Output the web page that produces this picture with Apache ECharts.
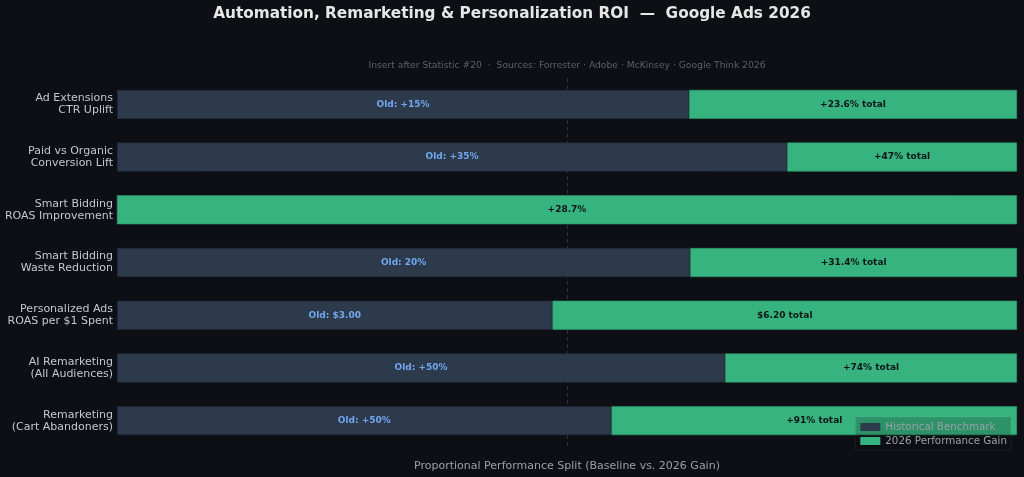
<!DOCTYPE html>
<html>
<head>
<meta charset="utf-8">
<script src="https://cdn.jsdelivr.net/npm/echarts@6/dist/echarts.min.js"></script>
<style>
  html, body { margin: 0; padding: 0; background: #0d0f14; }
  #chart { width: 1024px; height: 477px; }
</style>
</head>
<body>
<div id="chart"></div>
<script>
// categories, top to bottom
var categories = [
  'Ad Extensions\nCTR Uplift',
  'Paid vs Organic\nConversion Lift',
  'Smart Bidding\nROAS Improvement',
  'Smart Bidding\nWaste Reduction',
  'Personalized Ads\nROAS per $1 Spent',
  'AI Remarketing\n(All Audiences)',
  'Remarketing\n(Cart Abandoners)'
];
// historical baseline and 2026 total, same unit per row
var oldValues = [15, 35, 0, 20, 3.00, 50, 50];
var totalValues = [23.6, 47, 28.7, 31.4, 6.20, 74, 91];
var oldLabels = ['Old: +15%', 'Old: +35%', '', 'Old: 20%', 'Old: $3.00', 'Old: +50%', 'Old: +50%'];
var newLabels = ['+23.6% total', '+47% total', '+28.7%', '+31.4% total', '$6.20 total', '+74% total', '+91% total'];

// shares of the bar (percent)
var baseShare = oldValues.map(function (v, i) { return v / totalValues[i] * 100; });
var gainShare = oldValues.map(function (v, i) { return 100 - v / totalValues[i] * 100; });

var chart = echarts.init(document.getElementById('chart'));
var font = 'DejaVu Sans';

var option = {
  backgroundColor: '#0d0f14',
  textStyle: { fontFamily: font },
  title: [{
    text: 'Automation, Remarketing & Personalization ROI  \u2014  Google Ads 2026',
    left: 'center', top: 2,
    textStyle: { color: '#e6e6e6', fontSize: 15.3, fontWeight: 'bold', fontFamily: font }
  }, {
    text: 'Insert after Statistic #20  \u00b7  Sources: Forrester \u00b7 Adobe \u00b7 McKinsey \u00b7 Google Think 2026',
    left: 562, top: 56, textAlign: 'center',
    textStyle: { color: '#5c6068', fontSize: 9.2, fontWeight: 'normal', fontFamily: font }
  }],
  legend: {
    orient: 'vertical',
    right: 13, bottom: 27,
    icon: 'rect',
    itemWidth: 20, itemHeight: 8, itemGap: 4,
    padding: [5, 4, 4, 5],
    backgroundColor: 'rgba(13,15,20,0.2)',
    borderColor: 'rgba(255,255,255,0.06)', borderWidth: 1,
    itemStyle: { borderWidth: 0 },
    textStyle: { color: '#9aa0a8', fontSize: 10.3, fontFamily: font },
    data: ['Historical Benchmark', '2026 Performance Gain']
  },
  grid: { left: 117, right: 7, top: 78, bottom: 28 },
  xAxis: {
    type: 'value', min: 0, max: 100,
    name: 'Proportional Performance Split (Baseline vs. 2026 Gain)',
    nameLocation: 'middle', nameGap: 14,
    nameTextStyle: { color: '#9aa0a6', fontSize: 11, fontFamily: font },
    axisLabel: { show: false }, axisTick: { show: false },
    axisLine: { show: false }, splitLine: { show: false }
  },
  yAxis: {
    type: 'category', inverse: true, data: categories,
    axisLine: { show: false }, axisTick: { show: false },
    axisLabel: { color: '#c4c8cd', fontSize: 11, lineHeight: 12, margin: 4, fontFamily: font }
  },
  series: [{
    name: 'Historical Benchmark', type: 'bar', stack: 'split',
    barWidth: 29, data: baseShare,
    itemStyle: { color: '#2c3a4b', borderColor: '#1f2937', borderWidth: 0.6 },
    label: {
      show: true, position: 'inside',
      color: '#72a7ee', fontSize: 9, fontWeight: 'bold', fontFamily: font,
      formatter: function (p) { return oldLabels[p.dataIndex]; }
    },
    markLine: {
      silent: true, symbol: 'none', z: 1,
      lineStyle: { color: '#2e313a', type: [4, 3], width: 1.2 },
      label: { show: false },
      data: [{ xAxis: 50 }]
    }
  }, {
    name: '2026 Performance Gain', type: 'bar', stack: 'split',
    barWidth: 29, data: gainShare,
    itemStyle: { color: '#36b37e', borderColor: '#2e9a6b', borderWidth: 0.6 },
    label: {
      show: true, position: 'inside',
      color: '#111418', fontSize: 9, fontWeight: 'bold', fontFamily: font,
      formatter: function (p) { return newLabels[p.dataIndex]; }
    }
  }]
};

chart.setOption(option);
</script>
</body>
</html>
